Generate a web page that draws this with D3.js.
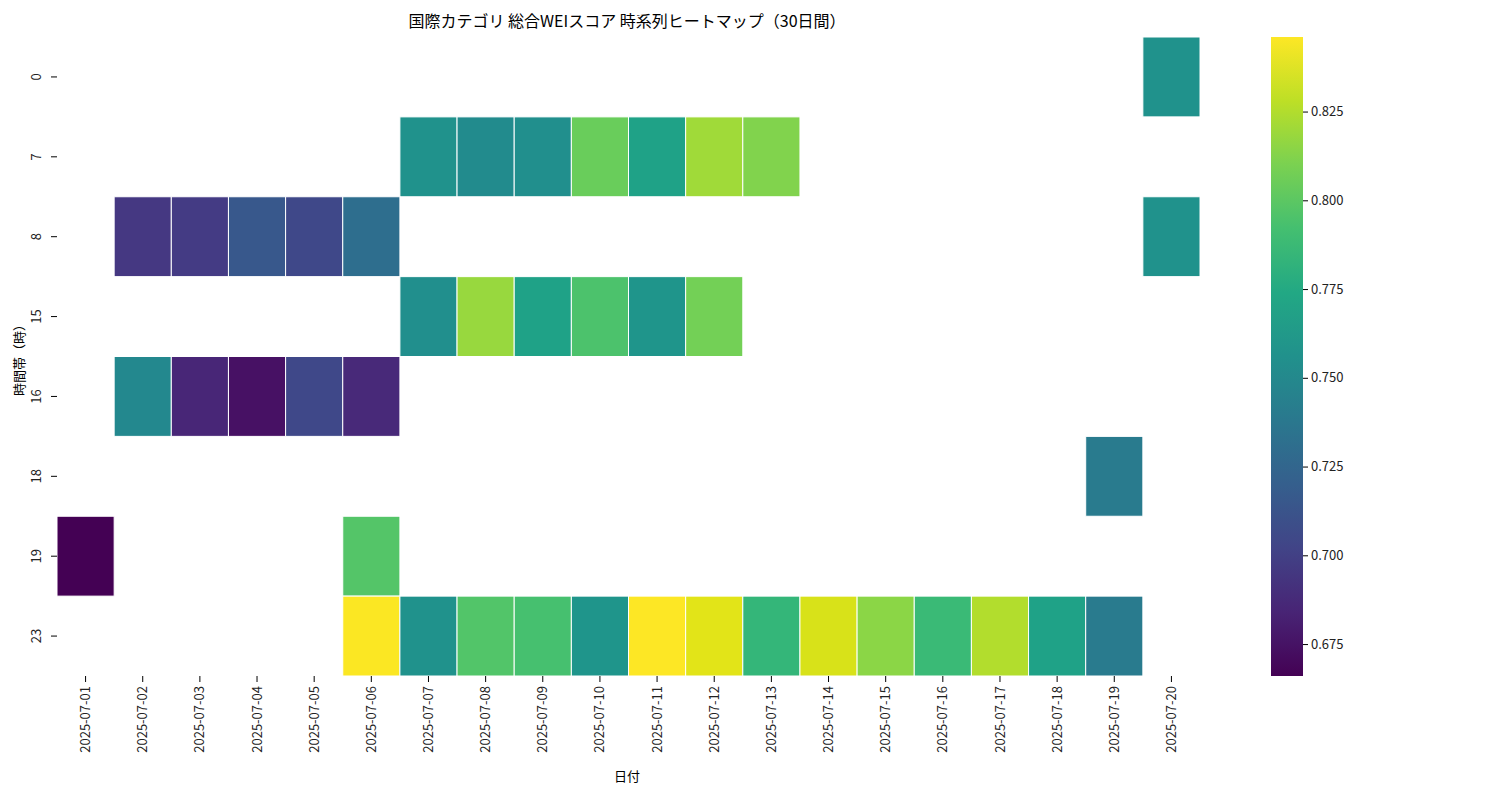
<!DOCTYPE html>
<html><head><meta charset="utf-8">
<script src="https://cdn.jsdelivr.net/npm/d3@7"></script>
<style>body{margin:0;background:#fff}text{font-family:"Noto Sans CJK JP","Noto Sans",sans-serif}</style>
</head><body><svg id="c" width="1500" height="800"></svg>
<script>
var dates = d3.range(1, 21).map(function(d) { return '2025-07-' + (d < 10 ? '0' + d : d); });
var hours = ['0', '7', '8', '15', '16', '18', '19', '23'];
// [hour, day, value]
var cells = [
	['0', 20, 0.757],
	['7', 7, 0.757], ['7', 8, 0.752], ['7', 9, 0.755], ['7', 10, 0.805], ['7', 11, 0.77], ['7', 12, 0.82], ['7', 13, 0.812],
	['8', 2, 0.695], ['8', 3, 0.697], ['8', 4, 0.715], ['8', 5, 0.705], ['8', 6, 0.73], ['8', 20, 0.757],
	['15', 7, 0.755], ['15', 8, 0.818], ['15', 9, 0.77], ['15', 10, 0.795], ['15', 11, 0.76], ['15', 12, 0.808],
	['16', 2, 0.75], ['16', 3, 0.685], ['16', 4, 0.674], ['16', 5, 0.705], ['16', 6, 0.687],
	['18', 19, 0.74],
	['19', 1, 0.666], ['19', 6, 0.798],
	['23', 6, 0.845], ['23', 7, 0.758], ['23', 8, 0.797], ['23', 9, 0.793], ['23', 10, 0.76], ['23', 11, 0.846],
	['23', 12, 0.838], ['23', 13, 0.785], ['23', 14, 0.835], ['23', 15, 0.815], ['23', 16, 0.788], ['23', 17, 0.825],
	['23', 18, 0.77], ['23', 19, 0.74]
];
var cbTicks = [0.675, 0.7, 0.725, 0.75, 0.775, 0.8, 0.825];

var svg = d3.select('#c');
var mL = 57, mR = 1200, mT = 37, mB = 676;
var x = d3.scaleBand().domain(dates).range([mL, mR]);
var y = d3.scaleBand().domain(hours).range([mT, mB]);
var ext = d3.extent(cells, function(d) { return d[2]; });
var color = d3.scaleSequential(d3.interpolateViridis).domain(ext);

svg.append('g').selectAll('rect').data(cells).enter().append('rect')
	.attr('x', function(d) { return x(dates[d[1] - 1]); })
	.attr('y', function(d) { return y(d[0]); })
	.attr('width', x.bandwidth()).attr('height', y.bandwidth())
	.attr('fill', function(d) { return color(d[2]); })
	.attr('stroke', '#fff').attr('stroke-width', 1);

var xa = svg.append('g').attr('transform', 'translate(0,' + mB + ')')
	.call(d3.axisBottom(x).tickSize(6).tickPadding(4));
xa.select('.domain').remove();
xa.selectAll('text').attr('text-anchor', 'end')
	.attr('dx', 0).attr('dy', '0.35em').attr('x', 0).attr('y', 0)
	.attr('transform', 'translate(0,10) rotate(-90)').style('font-size', '13px').attr('fill', '#222');

var ya = svg.append('g').attr('transform', 'translate(' + mL + ',0)')
	.call(d3.axisLeft(y).tickSize(6));
ya.select('.domain').remove();
ya.selectAll('text').attr('x', 0).attr('y', 0).attr('dy', 0)
	.attr('text-anchor', 'middle').attr('transform', 'translate(-16,0) rotate(-90)')
	.style('font-size', '13px').attr('fill', '#222');

svg.append('text').attr('x', 627).attr('y', 781).attr('text-anchor', 'middle')
	.style('font-size', '13px').text('日付');
svg.append('text').attr('transform', 'translate(24,357) rotate(-90)').attr('text-anchor', 'middle')
	.style('font-size', '13px').text('時間帯（時）');
svg.append('text').attr('x', 627).attr('y', 27).attr('text-anchor', 'middle')
	.style('font-size', '16px').text('国際カテゴリ 総合WEIスコア 時系列ヒートマップ（30日間）');

// colorbar
var cbX = 1271, cbW = 32;
var cy = d3.scaleLinear().domain(ext).range([mB, mT]);
var grad = svg.append('defs').append('linearGradient').attr('id', 'g')
	.attr('x1', 0).attr('y1', 1).attr('x2', 0).attr('y2', 0);
d3.range(0, 1.01, 0.1).forEach(function(t) {
	grad.append('stop').attr('offset', t).attr('stop-color', d3.interpolateViridis(t));
});
svg.append('rect').attr('x', cbX).attr('y', mT).attr('width', cbW).attr('height', mB - mT)
	.attr('fill', 'url(#g)');
var ca = svg.append('g').attr('transform', 'translate(' + (cbX + cbW) + ',0)')
	.call(d3.axisRight(cy).tickValues(cbTicks).tickFormat(d3.format('.3f')).tickSize(5));
ca.select('.domain').remove();
ca.selectAll('text').style('font-size', '13px').attr('fill', '#222');
</script></body></html>
